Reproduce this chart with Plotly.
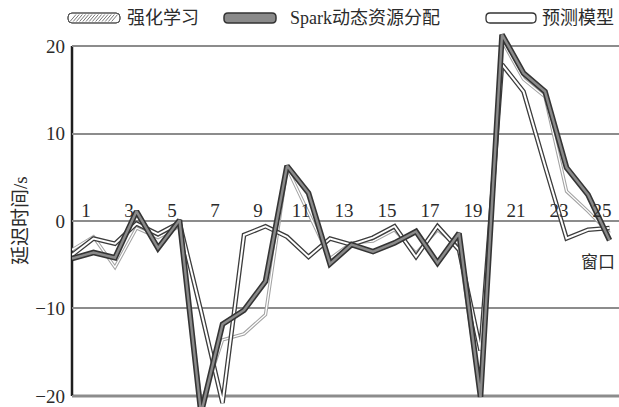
import plotly.graph_objects as go

# Window positions along the horizontal axis (26 sampled points)
positions = list(range(26))
window_labels = [str(n) for n in range(1, 26, 2)]

# Delay time (s) per window for each scheduling approach
rl_delay = [-3.3, -1.8, -5.3, -0.8, -1.9, -0.6, -21.0, -13.6, -12.9, -10.7,
            6.1, 0.8, -4.3, -2.5, -2.3, -1.0, -3.7, -1.0, -3.0, -20.0,
            20.6, 16.2, 14.2, 3.4, 1.1, -1.4]
spark_delay = [-4.3, -3.6, -4.2, 1.1, -3.1, 0.1, -22.0, -11.8, -10.2, -6.9,
               6.3, 3.2, -4.9, -2.7, -3.5, -2.5, -1.2, -4.8, -1.4, -20.1,
               21.3, 16.9, 14.8, 6.1, 3.0, -2.2]
pred_delay = [-3.9, -2.0, -2.6, -0.3, -1.5, -0.2, -10.3, -20.8, -1.6, -0.6,
              -1.8, -4.1, -2.0, -2.7, -1.9, -0.6, -4.1, -0.6, -3.3, -14.8,
              17.9, 14.8, 6.3, -2.0, -1.0, -0.8]

series_names = ["强化学习", "Spark动态资源分配", "预测模型"]
y_ticks = [-20, -10, 0, 10, 20]
y_ticktext = ["−20", "−10", "0", "10", "20"]

W, H = 619, 407
ML, MR, MT, MB = 72, 0, 30, 0
PW, PH = W - ML - MR, H - MT - MB
X_RANGE = [0, 25.44]
Y_RANGE = [-21.26, 21.83]

SERIF = "Liberation Serif, Noto Sans CJK SC, serif"
TXT = "#2b2b2b"


def px(x):
    return (x - ML) / PW


def py(y):
    return (H - MB - y) / PH


fig = go.Figure()

# double-stroked lines: a wide outer stroke plus a narrower inner stroke
styles = [
    (rl_delay, series_names[0], "#a3a3a3", 3.4, "#ffffff", 1.3),
    (pred_delay, series_names[2], "#3c3c3c", 4.6, "#ffffff", 2.0),
    (spark_delay, series_names[1], "#353535", 5.6, "#8a8a8a", 2.4),
]
for vals, name, oc, ow, ic, iw in styles:
    fig.add_trace(go.Scatter(x=positions, y=vals, mode="lines", name=name,
                             line=dict(color=oc, width=ow), showlegend=False,
                             hoverinfo="skip"))
    fig.add_trace(go.Scatter(x=positions, y=vals, mode="lines", name=name,
                             line=dict(color=ic, width=iw), showlegend=False))

shapes = []
# bottom baseline and left axis line
shapes.append(dict(type="line", xref="paper", yref="y", x0=0, x1=1, y0=-20, y1=-20,
                   line=dict(color="#1e1e1e", width=2.5), layer="below"))
shapes.append(dict(type="line", xref="paper", yref="y", x0=0, x1=0, y0=-20, y1=20,
                   line=dict(color="#1e1e1e", width=2.5), layer="below"))


def rounded_rect(x0, y0, x1, y1, r, fill, line_color, lw):
    def P(x, y):
        return f"{px(x):.5f},{py(y):.5f}"
    path = (f"M {P(x0 + r, y0)} L {P(x1 - r, y0)} Q {P(x1, y0)} {P(x1, y0 + r)} "
            f"L {P(x1, y1 - r)} Q {P(x1, y1)} {P(x1 - r, y1)} L {P(x0 + r, y1)} "
            f"Q {P(x0, y1)} {P(x0, y1 - r)} L {P(x0, y0 + r)} Q {P(x0, y0)} {P(x0 + r, y0)} Z")
    return dict(type="path", xref="paper", yref="paper", path=path,
                fillcolor=fill, line=dict(color=line_color, width=lw))


LEG_Y0, LEG_Y1 = 13, 23
sym1 = (68, 120)
sym2 = (224, 276)
sym3 = (486, 536)
shapes.append(rounded_rect(sym1[0], LEG_Y0, sym1[1], LEG_Y1, 4, "#ffffff", "#555555", 1))
# hatch strokes for the first legend key
x = sym1[0] + 2
while x < sym1[1] - 7:
    shapes.append(dict(type="line", xref="paper", yref="paper",
                       x0=px(x), y0=py(LEG_Y1 - 1.5), x1=px(x + 6), y1=py(LEG_Y0 + 1.5),
                       line=dict(color="#777777", width=1)))
    x += 3.2
shapes.append(rounded_rect(sym1[0], LEG_Y0, sym1[1], LEG_Y1, 4, "rgba(0,0,0,0)", "#555555", 1))
shapes.append(rounded_rect(sym2[0], LEG_Y0, sym2[1], LEG_Y1, 4, "#8a8a8a", "#333333", 1.5))
shapes.append(rounded_rect(sym3[0], LEG_Y0, sym3[1], LEG_Y1, 4, "#ffffff", "#333333", 1.3))

annotations = []
for sx, label in [(sym1[1] + 5, series_names[0]), (sym2[1] + 12, series_names[1]),
                  (sym3[1] + 4, series_names[2])]:
    annotations.append(dict(xref="paper", yref="paper", x=px(sx), y=py(18),
                            text=label, showarrow=False, xanchor="left", yanchor="middle",
                            font=dict(family=SERIF, size=18, color=TXT)))

# axis titles
annotations.append(dict(xref="paper", yref="paper", x=px(21), y=py(221),
                        text="延迟时间/s", textangle=-90, showarrow=False,
                        xanchor="center", yanchor="middle",
                        font=dict(family=SERIF, size=19, color=TXT)))
annotations.append(dict(xref="paper", yref="paper", x=px(617), y=py(262),
                        text="窗口", showarrow=False, xanchor="right", yanchor="middle",
                        font=dict(family=SERIF, size=17, color=TXT)))

fig.update_layout(
    width=W, height=H,
    margin=dict(l=ML, r=MR, t=MT, b=MB),
    paper_bgcolor="white", plot_bgcolor="white",
    shapes=shapes, annotations=annotations,
    xaxis=dict(range=X_RANGE, showgrid=False, zeroline=False, showline=False,
               tickmode="array", tickvals=[int(t) - 0.35 for t in window_labels],
               ticktext=window_labels, ticks="", anchor="free",
               position=py(221), side="top",
               tickfont=dict(family=SERIF, size=19, color=TXT)),
    yaxis=dict(range=Y_RANGE, tickmode="array", tickvals=y_ticks, ticktext=y_ticktext,
               showgrid=True, gridcolor="#8c8c8c", gridwidth=2, zeroline=False,
               showline=False, ticks="", ticklabelstandoff=6,
               tickfont=dict(family=SERIF, size=19, color=TXT)),
)

fig.write_html("out.html")
